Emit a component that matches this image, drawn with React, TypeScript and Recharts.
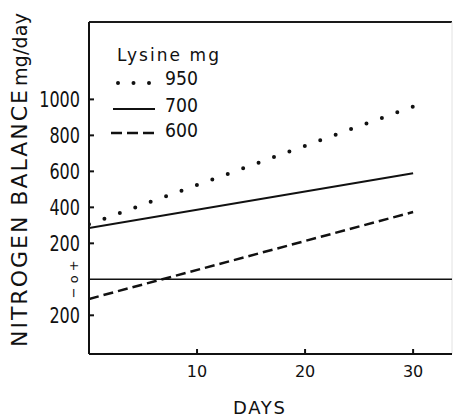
import React from "react";
import { LineChart, Line, XAxis, YAxis, ReferenceLine } from "recharts";

// days on trial and nitrogen balance (mg/day) for each lysine intake
const days = [0, 30];
const lysine950 = [306, 960];
const lysine700 = [285, 590];
const lysine600 = [-109, 374];

const yTicks = [1000, 800, 600, 400, 200, 0, -200];
const xTicks = [10, 20, 30];

const FONT = "'DejaVu Sans', sans-serif";
const W = 454;
const H = 418;
const PLOT_LEFT = 89;
const PLOT_BOTTOM = 354;

const rows = days.map((d, i) => ({
  day: d,
  l950: lysine950[i],
  l700: lysine700[i],
  l600: lysine600[i],
}));

const legendItems = [
  { key: "l950", label: "950", style: "dots" },
  { key: "l700", label: "700", style: "solid" },
  { key: "l600", label: "600", style: "dash" },
];

function YTick(props: any) {
  const { y, payload } = props;
  const v = payload.value;
  if (v === 0) {
    return (
      <text
        x={0}
        y={0}
        transform={`translate(78, ${y}) rotate(-90)`}
        textAnchor="middle"
        fontFamily={FONT}
        fontSize={13}
        fill="#111"
      >
        − o +
      </text>
    );
  }
  const txt = String(Math.abs(v));
  return (
    <g>
      <line x1={PLOT_LEFT} x2={PLOT_LEFT + 5} y1={y} y2={y} stroke="#111" strokeWidth={2} />
      <text
        x={80}
        y={y + 7.5}
        textAnchor="end"
        fontFamily={FONT}
        fontSize={21}
        fill="#111"
        textLength={txt.length * 10.2}
        lengthAdjust="spacingAndGlyphs"
      >
        {txt}
      </text>
    </g>
  );
}

function XTick(props: any) {
  const { x, payload } = props;
  return (
    <g>
      <line x1={x} x2={x} y1={PLOT_BOTTOM} y2={PLOT_BOTTOM - 5} stroke="#111" strokeWidth={2} />
      <text x={x} y={377} textAnchor="middle" fontFamily={FONT} fontSize={16} fill="#111">
        {payload.value}
      </text>
    </g>
  );
}

// key box in the upper left of the plot
function LegendBox() {
  return (
    <g transform="translate(100, 40)">
      <text
        x={17}
        y={21}
        fontFamily={FONT}
        fontSize={17}
        fill="#111"
        textLength={102}
        lengthAdjust="spacing"
      >
        Lysine mg
      </text>
      {legendItems.map((it, i) => {
        const cy = [43, 69, 93][i];
        const base = [45, 72, 97][i];
        return (
          <g key={it.key}>
            {it.style === "dots" && (
              <line
                x1={18}
                x2={50}
                y1={cy}
                y2={cy}
                stroke="#111"
                strokeWidth={4}
                strokeLinecap="round"
                strokeDasharray="0 15.5"
              />
            )}
            {it.style === "solid" && (
              <line x1={13} x2={55} y1={cy} y2={cy} stroke="#111" strokeWidth={2} />
            )}
            {it.style === "dash" && (
              <line
                x1={11}
                x2={57}
                y1={cy}
                y2={cy}
                stroke="#111"
                strokeWidth={2.5}
                strokeDasharray="11 5"
              />
            )}
            <text
              x={65}
              y={base}
              fontFamily={FONT}
              fontSize={20}
              fill="#111"
              textLength={33}
              lengthAdjust="spacingAndGlyphs"
            >
              {it.label}
            </text>
          </g>
        );
      })}
    </g>
  );
}

export default function App() {
  return (
    <div style={{ position: "absolute", left: 0, top: 0, width: W, height: H, background: "#fff" }}>
      <LineChart width={W} height={H} data={rows} margin={{ top: 22, right: 2, bottom: 0, left: 0 }}>
        <XAxis
          dataKey="day"
          type="number"
          domain={[0, 33.6]}
          ticks={xTicks}
          height={64}
          tick={<XTick />}
          tickLine={false}
          axisLine={{ stroke: "#111", strokeWidth: 2 }}
          allowDataOverflow
        />
        <YAxis
          type="number"
          domain={[-415, 1430]}
          ticks={yTicks}
          width={89}
          tick={<YTick />}
          tickLine={false}
          axisLine={{ stroke: "#111", strokeWidth: 2 }}
          allowDataOverflow
          interval={0}
        />
        <ReferenceLine y={1430} stroke="#1a1a1a" strokeWidth={2} />
        <ReferenceLine x={33.6} stroke="#e2e2e2" strokeWidth={1} />
        <ReferenceLine y={0} stroke="#111" strokeWidth={1.6} />
        <Line
          dataKey="l950"
          stroke="#111"
          strokeWidth={4}
          strokeLinecap="round"
          strokeDasharray="0 16.4"
          dot={false}
          isAnimationActive={false}
        />
        <Line dataKey="l700" stroke="#111" strokeWidth={2} dot={false} isAnimationActive={false} />
        <Line
          dataKey="l600"
          stroke="#111"
          strokeWidth={2.5}
          strokeDasharray="10 5"
          dot={false}
          isAnimationActive={false}
        />
      </LineChart>
      <svg width={W} height={H} style={{ position: "absolute", left: 0, top: 0, pointerEvents: "none" }}>
        <LegendBox />
        <text
          transform="translate(27, 347) rotate(-90)"
          fontFamily={FONT}
          fontSize={22}
          fill="#111"
          textLength={257}
          lengthAdjust="spacing"
        >
          NITROGEN BALANCE
        </text>
        <text
          transform="translate(27, 86) rotate(-90)"
          fontFamily={FONT}
          fontSize={19}
          fill="#111"
          textLength={73}
          lengthAdjust="spacing"
        >
          mg/day
        </text>
        <text
          x={259}
          y={414}
          textAnchor="middle"
          fontFamily={FONT}
          fontSize={18}
          fill="#111"
          textLength={52}
          lengthAdjust="spacing"
        >
          DAYS
        </text>
      </svg>
    </div>
  );
}
